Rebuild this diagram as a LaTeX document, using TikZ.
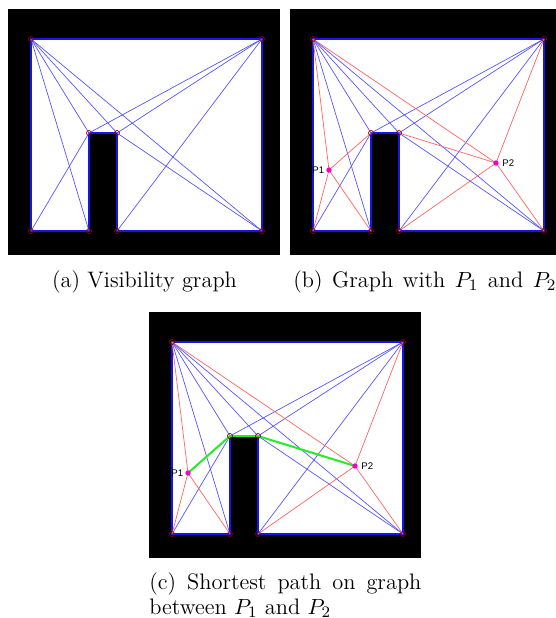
\documentclass[tikz,border=0pt]{standalone}
\usepackage{fontspec}
\newfontfamily\lblfont{Liberation Sans}
\newcommand\vispanel[3]{%
\begin{scope}[shift={(#2,#3)}]
  \fill[black] (-23,-30) rectangle (249,216);
  \fill[white] (0,0) rectangle (231,192);
  \fill[black] (58,94) rectangle (86,200);
  \coordinate (#1TL) at (0,0);
  \coordinate (#1TR) at (231,0);
  \coordinate (#1BL) at (0,192);
  \coordinate (#1BR) at (231,192);
  \coordinate (#1OTL) at (58,94);
  \coordinate (#1OTR) at (86,94);
  \coordinate (#1OBL) at (58,192);
  \coordinate (#1OBR) at (86,192);
  \coordinate (#1P1) at (16,131);
  \coordinate (#1P2) at (183,124);
  % boundary edges
  \draw[bound] (#1TL) -- (#1TR) -- (#1BR) -- (#1OBR) -- (#1OTR) -- (#1OTL) -- (#1OBL) -- (#1BL) -- cycle;
  % visibility edges
  \draw[bedge] (#1TL) -- (#1OTL);
  \draw[bedge] (#1TL) -- (#1OTR);
  \draw[bedge] (#1TL) -- (#1OBL);
  \draw[bedge] (#1TL) -- (#1BR);
  \draw[bedge] (#1TR) -- (#1OTL);
  \draw[bedge] (#1TR) -- (#1OTR);
  \draw[bedge] (#1TR) -- (#1OBR);
  \draw[bedge] (#1BL) -- (#1OTL);
  \draw[bedge] (#1OTR) -- (#1BR);
\end{scope}}
\newcommand\pointedges[1]{%
  \draw[redge] (#1P1) -- (#1TL);
  \draw[redge] (#1P1) -- (#1BL);
  \draw[redge] (#1P1) -- (#1OTL);
  \draw[redge] (#1P1) -- (#1OBL);
  \draw[redge] (#1P2) -- (#1TL);
  \draw[redge] (#1P2) -- (#1TR);
  \draw[redge] (#1P2) -- (#1OTR);
  \draw[redge] (#1P2) -- (#1OBR);
  \draw[redge] (#1P2) -- (#1BR);}
\newcommand\vertexmarks[1]{%
  \foreach \v in {TL,TR,BL,BR,OTL,OTR,OBL,OBR} {\node[vtx] (#1m\v) at (#1\v) {};}}
\newcommand\pointmarks[1]{%
  \node[ptmark] (#1mP1) at (#1P1) {};
  \node[ptmark] (#1mP2) at (#1P2) {};
  \node[plabel, anchor=east] (#1lP1) at ([xshift=-2.2pt]#1P1) {P1};
  \node[plabel, anchor=west] (#1lP2) at ([xshift=3pt]#1P2) {P2};}
\begin{document}
\begin{tikzpicture}[x=0.5pt,y=-0.5pt,
  bedge/.style={draw={rgb,255:red,85;green,85;blue,255}, line width=0.35pt},
  bound/.style={draw={rgb,255:red,20;green,20;blue,235}, line width=0.6pt},
  redge/.style={draw={rgb,255:red,255;green,100;blue,100}, line width=0.35pt},
  gedge/.style={draw={rgb,255:red,40;green,235;blue,40}, line width=1pt},
  vtx/.style={circle, draw={rgb,255:red,150;green,0;blue,0}, line width=0.35pt, minimum size=2.5pt, inner sep=0pt},
  ptmark/.style={circle, fill={rgb,255:red,240;green,0;blue,200}, minimum size=2.7pt, inner sep=0pt},
  plabel/.style={font=\lblfont\fontsize{4.8}{5.5}\selectfont, inner sep=0pt},
  caption/.style={font=\fontsize{11.2}{12.5}\selectfont, inner sep=0pt}]
\useasboundingbox (0,0) rectangle (556,618);
% (a)
\vispanel{a}{31}{39}
\vertexmarks{a}
% (b)
\vispanel{b}{313}{39}
\pointedges{b}
\vertexmarks{b}
\pointmarks{b}
% (c)
\vispanel{c}{172}{342}
\pointedges{c}
\draw[gedge] (cP1) -- (cOTL) -- (cOTR) -- (cP2);
\vertexmarks{c}
\pointmarks{c}
% captions
\node[caption, anchor=base] (capa) at (144.5,287) {(a) Visibility graph};
\node[caption, anchor=base west] (capb) at (293,287) {\makebox[131.5pt][s]{(b) Graph with $P_1$ and $P_2$}};
\node[caption, anchor=north west, text width=136pt, align=justify] (capc) at (149,572)
  {(c) Shortest path on graph between $P_1$ and $P_2$};
\end{tikzpicture}
\end{document}
